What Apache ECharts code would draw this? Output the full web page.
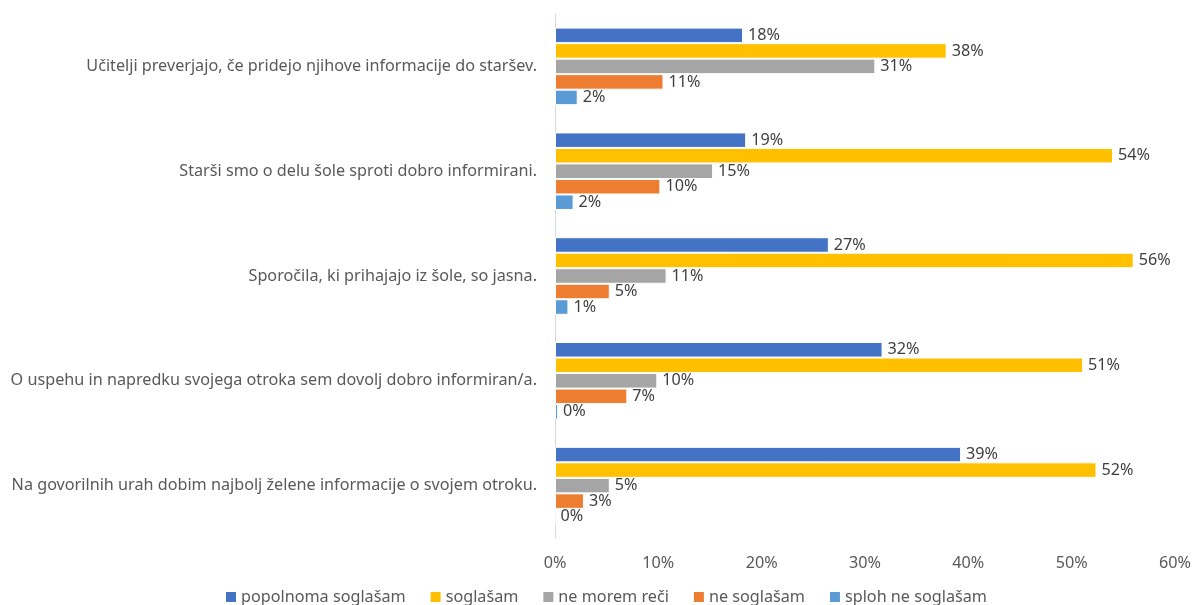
<!DOCTYPE html>
<html><head><meta charset="utf-8">
<script src="https://cdn.jsdelivr.net/npm/echarts@6/dist/echarts.min.js"></script>
<style>html,body{margin:0;padding:0;background:#fff}#c{width:1195px;height:605px}</style>
</head><body><div id="c"></div>
<script>
const categories = [
  "Učitelji preverjajo, če pridejo njihove informacije do staršev.",
  "Starši smo o delu šole sproti dobro informirani.",
  "Sporočila, ki prihajajo iz šole, so jasna.",
  "O uspehu in napredku svojega otroka sem dovolj dobro informiran/a.",
  "Na govorilnih urah dobim najbolj želene informacije o svojem otroku."
];
const seriesNames = ["popolnoma soglašam", "soglašam", "ne morem reči", "ne soglašam", "sploh ne soglašam"];
const popolnoma = [18.2, 18.5, 26.5, 31.7, 39.3];
const soglasam = [37.9, 54.0, 56.0, 51.1, 52.4];
const neMorem = [31.0, 15.3, 10.8, 9.9, 5.3];
const neSoglasam = [10.5, 10.2, 5.3, 7.0, 2.8];
const splohNe = [2.2, 1.8, 1.3, 0.3, 0.0];
const xTicks = [0, 10, 20, 30, 40, 50, 60];
const colors = ["#4472C4", "#FFC000", "#A5A5A5", "#ED7D31", "#5B9BD5"];
const FONT = "'Noto Sans', 'Open Sans', sans-serif";
const FS = 16.2;
const dataSets = [popolnoma, soglasam, neMorem, neSoglasam, splohNe];

const chart = echarts.init(document.getElementById('c'));
chart.setOption({
  animation: false,
  color: colors,
  grid: {left: 555, right: 20, top: 14, bottom: 67},
  legend: {
    top: 584, left: 221, itemWidth: 10, itemHeight: 10, itemGap: 25, icon: 'rect',
    itemStyle: {borderWidth: 0},
    textStyle: {color: '#595959', fontSize: FS, fontFamily: FONT}
  },
  xAxis: {
    type: 'value', min: 0, max: 60, interval: 10,
    splitLine: {show: false}, axisLine: {show: false}, axisTick: {show: false},
    axisLabel: {color: '#595959', fontSize: FS, fontFamily: FONT, margin: 17,
      formatter: v => xTicks.indexOf(v) >= 0 ? v + '%' : ''}
  },
  yAxis: {
    type: 'category', data: categories, inverse: true,
    axisLine: {show: true, lineStyle: {color: '#d9d9d9'}}, axisTick: {show: false},
    axisLabel: {color: '#595959', fontSize: FS, fontFamily: FONT, margin: 18}
  },
  series: dataSets.map((d, i) => ({
    name: seriesNames[i], type: 'bar', data: d,
    barGap: '0%', barCategoryGap: '26%',
    itemStyle: {borderColor: '#fff', borderWidth: 1},
    label: {show: true, position: 'right', distance: 5, color: '#404040', fontSize: FS, fontFamily: FONT,
      formatter: p => Math.round(p.value) + '%'}
  }))
});
</script></body></html>
